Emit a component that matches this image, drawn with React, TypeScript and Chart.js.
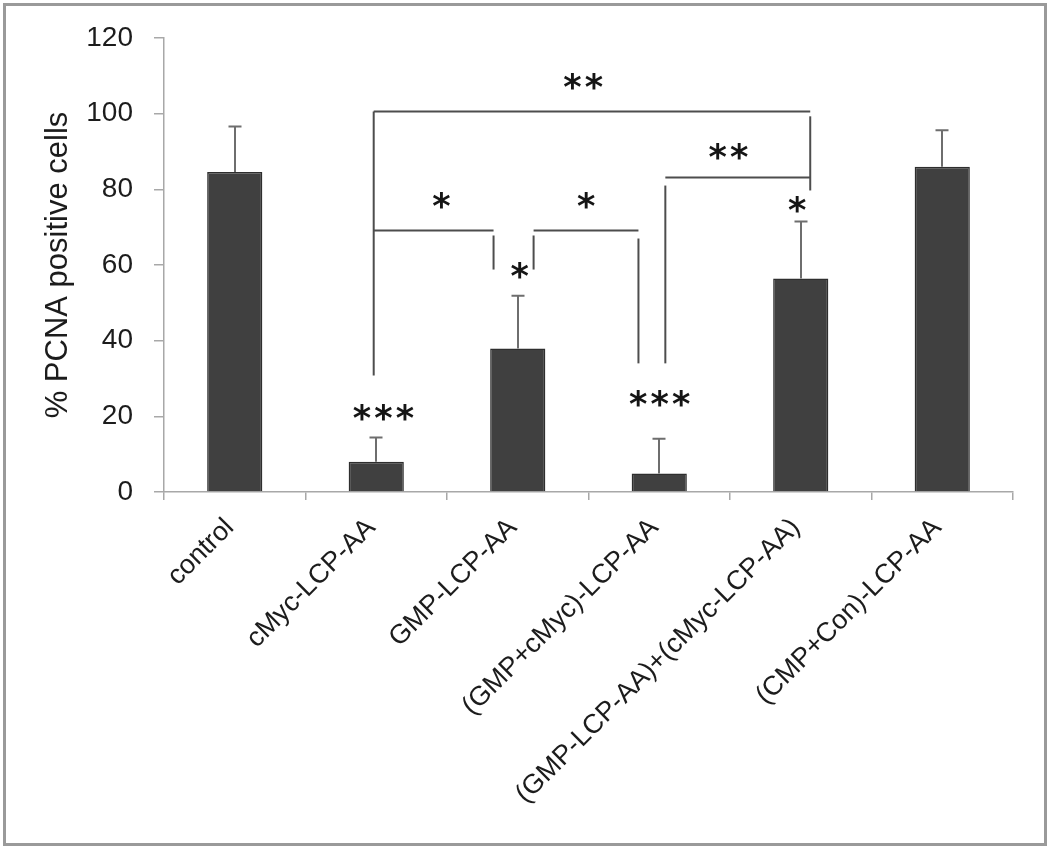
import React, { useEffect, useRef } from 'react';
import { Chart, registerables } from 'chart.js';

Chart.register(...registerables);

// ---------- data ----------
const categories = [
  'control',
  'cMyc-LCP-AA',
  'GMP-LCP-AA',
  '(GMP+cMyc)-LCP-AA',
  '(GMP-LCP-AA)+(cMyc-LCP-AA)',
  '(CMP+Con)-LCP-AA',
];
const meanValues = [84.6, 8.0, 37.9, 4.9, 56.4, 86.0];
const errorValues = [12.0, 6.4, 14.0, 9.2, 15.1, 9.6];

const yMin = 0;
const yMax = 120;
const yStep = 20;
const yTitle = '% PCNA positive cells';

// significance brackets: [xFrom, valueFrom, xTo, valueTo] in category-index / value units
const bracketSegments: number[][] = [
  [0.982, 100.6, 0.982, 30.8],
  [0.982, 100.6, 4.067, 100.6],
  [4.067, 99.3, 4.067, 79.7],
  [0.982, 69.1, 1.829, 69.1],
  [1.829, 67.8, 1.829, 58.8],
  [2.112, 67.8, 2.112, 58.8],
  [2.112, 69.1, 2.853, 69.1],
  [2.853, 67.0, 2.853, 34.0],
  [3.043, 81.0, 3.043, 34.0],
  [3.043, 83.1, 4.067, 83.1],
];

// significance marks: number of stars, category-index position, value position
const sigStars = [2, 2, 1, 1, 1, 1, 3, 3];
const sigAt = [2.461, 3.488, 1.459, 2.482, 2.012, 3.974, 1.049, 3.001];
const sigValue = [108.4, 90.1, 77.1, 77.1, 58.6, 75.9, 21.1, 24.6];

const FONT = 'Liberation Sans, Arial, sans-serif';
const TEXT = '#1c1c1c';
const AXIS = '#a8a8a8';

const annotationPlugin = {
  id: 'annotations',
  beforeDraw(chart: any) {
    const { ctx, width, height } = chart;
    ctx.save();
    ctx.fillStyle = '#ffffff';
    ctx.fillRect(0, 0, width, height);
    ctx.strokeStyle = '#9a9a9a';
    ctx.lineWidth = 3;
    ctx.strokeRect(4.5, 4.5, 1041, 840);
    ctx.restore();
  },
  afterDatasetsDraw(chart: any) {
    const { ctx } = chart;
    const x = chart.scales.x;
    const y = chart.scales.y;
    const meta = chart.getDatasetMeta(0);
    ctx.save();
    // error bars (upper only)
    ctx.strokeStyle = '#6e6e6e';
    ctx.lineWidth = 2;
    meta.data.forEach((bar: any, i: number) => {
      const px = Math.round(bar.x);
      const top = y.getPixelForValue(meanValues[i]);
      const end = y.getPixelForValue(meanValues[i] + errorValues[i]);
      ctx.beginPath();
      ctx.moveTo(px, top);
      ctx.lineTo(px, end);
      ctx.moveTo(px - 6.5, end);
      ctx.lineTo(px + 6.5, end);
      ctx.stroke();
    });
    // brackets
    ctx.strokeStyle = '#4d4d4d';
    ctx.lineWidth = 2;
    ctx.lineCap = 'butt';
    bracketSegments.forEach(([x1, v1, x2, v2]) => {
      ctx.beginPath();
      ctx.moveTo(x.getPixelForValue(x1), y.getPixelForValue(v1));
      ctx.lineTo(x.getPixelForValue(x2), y.getPixelForValue(v2));
      ctx.stroke();
    });
    // asterisks
    const fam = 'bold "DejaVu Sans"';
    ctx.font = `100px ${fam}`.replace('100px bold', 'bold 100px');
    ctx.font = `bold 100px "DejaVu Sans"`;
    const m = ctx.measureText('*');
    const h100 = m.actualBoundingBoxAscent + m.actualBoundingBoxDescent;
    const size = (100 * 16.5) / h100;
    ctx.font = `bold ${size}px "DejaVu Sans"`;
    const m2 = ctx.measureText('*');
    const asc = m2.actualBoundingBoxAscent;
    const desc = m2.actualBoundingBoxDescent;
    const gl = m2.actualBoundingBoxLeft;
    const gr = m2.actualBoundingBoxRight;
    ctx.fillStyle = '#151515';
    ctx.textAlign = 'left';
    ctx.textBaseline = 'alphabetic';
    sigStars.forEach((n, k) => {
      const cx = x.getPixelForValue(sigAt[k]);
      const cy = y.getPixelForValue(sigValue[k]);
      const baseY = cy + (asc - desc) / 2;
      for (let j = 0; j < n; j++) {
        const ox = (j - (n - 1) / 2) * 21.5;
        const gx = cx + ox - (gr - gl) / 2;
        ctx.fillText('*', gx, baseY);
      }
    });
    ctx.restore();
  },
};

export default function App() {
  const canvasRef = useRef<HTMLCanvasElement | null>(null);

  useEffect(() => {
    document.body.style.margin = '0';
    const canvas = canvasRef.current;
    if (!canvas) return;
    const chart = new Chart(canvas, {
      type: 'bar',
      data: {
        labels: categories,
        datasets: [
          {
            data: meanValues,
            backgroundColor: '#404040',
            borderColor: '#2e2e2e',
            borderWidth: 1.5,
            barPercentage: 0.39,
            categoryPercentage: 1,
          },
        ],
      },
      options: {
        responsive: false,
        animation: false,
        devicePixelRatio: 1,
        layout: { padding: { top: 38, right: 37, left: 40, bottom: 0 } },
        plugins: {
          legend: { display: false },
          tooltip: { enabled: false },
          title: { display: false },
        },
        scales: {
          x: {
            ticks: {
              autoSkip: false,
              maxRotation: 45,
              minRotation: 45,
              padding: 12,
              labelOffset: -5,
              color: TEXT,
              font: { family: FONT, size: 27 },
            },
            grid: {
              drawOnChartArea: false,
              drawTicks: true,
              tickLength: 8,
              offset: true,
              color: AXIS,
              lineWidth: 1.5,
            },
            border: { color: AXIS, width: 1.5 },
            afterFit: (s: any) => {
              s.height = 356;
            },
          },
          y: {
            min: yMin,
            max: yMax,
            ticks: {
              stepSize: yStep,
              padding: 21,
              color: TEXT,
              font: { family: FONT, size: 28 },
            },
            grid: {
              drawOnChartArea: false,
              drawTicks: true,
              tickLength: 10,
              color: AXIS,
              lineWidth: 1.5,
            },
            border: { color: AXIS, width: 1.5 },
            title: {
              display: true,
              text: yTitle,
              color: TEXT,
              padding: 0,
              font: { family: FONT, size: 31 },
            },
            afterFit: (s: any) => {
              s.width = 124;
            },
          },
        },
      },
      plugins: [annotationPlugin],
    });
    return () => chart.destroy();
  }, []);

  return (
    <div style={{ width: 1050, height: 848, position: 'relative' }}>
      <canvas ref={canvasRef} width={1050} height={848} style={{ display: 'block' }} />
    </div>
  );
}
